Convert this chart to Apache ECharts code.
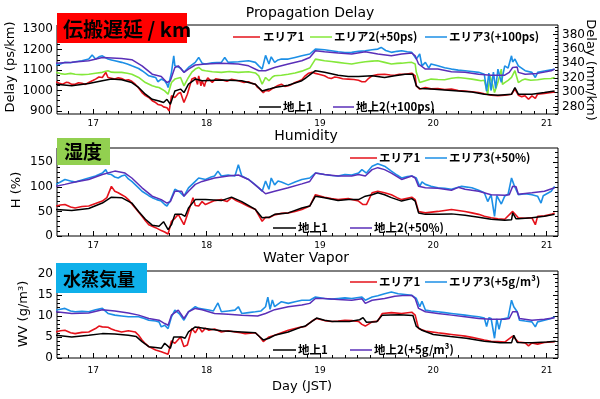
<!DOCTYPE html>
<html>
<head>
<meta charset="utf-8">
<script src="https://cdn.jsdelivr.net/npm/echarts@6/dist/echarts.min.js"></script>
<style>
  html, body { margin: 0; padding: 0; background: #fff; }
  #main { width: 600px; height: 399px; }
</style>
</head>
<body>
<div id="main"></div>
<script>
// tick labels
const dayTicks = [17, 18, 19, 20, 21];
const delayTicks = [900, 1000, 1100, 1200, 1300];
const delayMmTicks = [280, 300, 320, 340, 360, 380];
const humTicks = [0, 50, 100, 150];
const wvTicks = [0, 5, 10, 15, 20];

// Propagation delay (ps/km), [day, value]
const delayArea1 = [[16.67,1043],[16.70,1036],[16.73,1031],[16.76,1040],[16.78,1039],[16.81,1030],[16.84,1031],[16.87,1038],[16.90,1036],[16.93,1030],[16.96,1039],[17.00,1050],[17.02,1056],[17.05,1066],[17.08,1064],[17.11,1089],[17.13,1064],[17.16,1060],[17.19,1056],[17.22,1062],[17.25,1059],[17.28,1050],[17.31,1053],[17.34,1045],[17.37,1031],[17.40,1012],[17.43,990],[17.46,975],[17.49,966],[17.52,950],[17.55,941],[17.57,932],[17.60,928],[17.62,920],[17.65,916],[17.67,900],[17.69,974],[17.72,966],[17.75,985],[17.77,990],[17.80,941],[17.83,982],[17.85,1020],[17.87,1056],[17.90,1064],[17.92,1030],[17.93,1072],[17.95,1023],[17.96,1048],[17.98,1020],[17.99,1040],[18.01,1062],[18.02,1056],[18.05,1040],[18.08,1058],[18.13,1053],[18.18,1045],[18.22,1055],[18.28,1048],[18.33,1040],[18.37,1043],[18.40,1035],[18.43,1031],[18.45,1015],[18.47,1007],[18.50,990],[18.52,1000],[18.55,998],[18.58,1010],[18.60,1015],[18.63,1025],[18.66,1031],[18.69,1020],[18.72,1023],[18.75,1030],[18.78,1039],[18.81,1045],[18.84,1053],[18.87,1072],[18.90,1085],[18.93,1089],[18.96,1084],[18.99,1080],[19.04,1072],[19.07,1063],[19.10,1059],[19.13,1066],[19.16,1064],[19.20,1058],[19.25,1056],[19.30,1054],[19.34,1050],[19.37,1043],[19.40,1043],[19.43,1060],[19.46,1072],[19.51,1078],[19.57,1080],[19.62,1076],[19.66,1075],[19.70,1079],[19.75,1080],[19.81,1085],[19.84,1072],[19.85,1023],[19.88,1007],[19.93,1015],[19.98,1008],[20.04,1010],[20.10,1005],[20.16,1007],[20.22,1000],[20.28,998],[20.34,994],[20.40,990],[20.45,984],[20.51,977],[20.57,975],[20.63,977],[20.69,982],[20.72,1007],[20.75,977],[20.78,970],[20.81,974],[20.84,957],[20.87,974],[20.90,962],[20.92,982],[20.98,986],[21.04,990],[21.07,993]];
const delayArea2 = [[16.67,1089],[16.71,1083],[16.75,1080],[16.80,1084],[16.84,1080],[16.90,1078],[16.96,1080],[17.02,1085],[17.08,1089],[17.11,1094],[17.13,1097],[17.16,1090],[17.19,1089],[17.25,1089],[17.30,1085],[17.34,1080],[17.40,1064],[17.46,1039],[17.52,1023],[17.55,1018],[17.58,1015],[17.63,998],[17.66,982],[17.69,1039],[17.72,1056],[17.77,1064],[17.80,1023],[17.84,1064],[17.87,1090],[17.90,1105],[17.93,1113],[17.96,1100],[17.99,1097],[18.05,1092],[18.13,1089],[18.20,1093],[18.28,1089],[18.37,1092],[18.43,1086],[18.46,1072],[18.49,1031],[18.52,1064],[18.55,1048],[18.58,1066],[18.60,1072],[18.66,1075],[18.72,1080],[18.78,1086],[18.84,1095],[18.91,1110],[18.96,1154],[19.04,1146],[19.10,1142],[19.16,1138],[19.22,1134],[19.28,1130],[19.34,1136],[19.40,1141],[19.46,1144],[19.51,1146],[19.57,1138],[19.63,1130],[19.68,1133],[19.72,1134],[19.78,1137],[19.81,1138],[19.84,1130],[19.85,1089],[19.88,1039],[19.93,1048],[19.98,1056],[20.04,1054],[20.10,1053],[20.16,1060],[20.22,1064],[20.28,1060],[20.34,1056],[20.38,1052],[20.42,1048],[20.45,1050],[20.48,982],[20.50,1072],[20.52,1035],[20.54,990],[20.57,1040],[20.60,1105],[20.61,1030],[20.63,1039],[20.66,1050],[20.69,1064],[20.72,1097],[20.75,1039],[20.78,1050],[20.81,1056],[20.86,1050],[20.92,1053],[20.98,1058],[21.04,1059],[21.07,1064]];
const delayArea3 = [[16.67,1125],[16.71,1130],[16.75,1138],[16.80,1136],[16.84,1141],[16.90,1146],[16.96,1154],[16.99,1174],[17.02,1154],[17.05,1165],[17.08,1170],[17.11,1160],[17.13,1154],[17.16,1150],[17.19,1146],[17.25,1138],[17.30,1130],[17.34,1121],[17.40,1108],[17.43,1097],[17.46,1085],[17.49,1072],[17.52,1068],[17.55,1064],[17.57,1043],[17.60,1056],[17.63,1048],[17.65,1031],[17.66,1015],[17.69,1089],[17.71,1170],[17.72,1121],[17.77,1110],[17.80,1089],[17.84,1113],[17.90,1138],[17.93,1162],[17.96,1134],[17.99,1130],[18.05,1136],[18.13,1138],[18.16,1162],[18.19,1138],[18.28,1141],[18.37,1146],[18.43,1138],[18.46,1121],[18.49,1105],[18.52,1172],[18.55,1130],[18.57,1165],[18.60,1138],[18.63,1150],[18.66,1154],[18.72,1154],[18.78,1162],[18.84,1170],[18.91,1179],[18.96,1203],[19.04,1200],[19.10,1195],[19.16,1190],[19.22,1186],[19.28,1187],[19.34,1192],[19.40,1195],[19.46,1200],[19.51,1203],[19.54,1211],[19.58,1196],[19.63,1187],[19.68,1192],[19.72,1195],[19.77,1190],[19.81,1187],[19.85,1154],[19.88,1179],[19.90,1121],[19.93,1138],[19.96,1110],[19.98,1130],[20.04,1121],[20.10,1112],[20.16,1105],[20.22,1100],[20.28,1097],[20.34,1093],[20.40,1089],[20.45,1080],[20.47,997],[20.49,1085],[20.51,1000],[20.53,1090],[20.55,1010],[20.57,1105],[20.60,1040],[20.63,1121],[20.66,1110],[20.69,1170],[20.70,1140],[20.72,1154],[20.75,1121],[20.81,1097],[20.87,1089],[20.90,1064],[20.92,1089],[20.98,1096],[21.04,1101],[21.07,1105]];
const delayGround1 = [[16.67,1031],[16.81,1023],[16.96,1034],[17.08,1048],[17.16,1056],[17.25,1053],[17.34,1039],[17.40,1015],[17.46,982],[17.52,957],[17.58,949],[17.62,941],[17.65,957],[17.68,933],[17.69,941],[17.72,998],[17.77,1007],[17.80,990],[17.84,1031],[17.90,1056],[17.96,1048],[18.13,1051],[18.31,1048],[18.43,1031],[18.49,998],[18.55,1007],[18.60,1015],[18.72,1026],[18.84,1048],[18.87,1060],[18.93,1085],[18.96,1097],[19.04,1089],[19.16,1075],[19.25,1069],[19.34,1069],[19.46,1072],[19.57,1064],[19.66,1072],[19.75,1080],[19.82,1080],[19.85,1023],[19.88,1010],[19.98,1007],[20.10,1003],[20.22,998],[20.34,993],[20.45,982],[20.57,977],[20.69,982],[20.72,1015],[20.75,982],[20.87,982],[20.98,990],[21.07,998]];
const delayGround2 = [[16.67,1134],[16.81,1138],[16.96,1146],[17.08,1162],[17.25,1157],[17.34,1151],[17.43,1121],[17.52,1080],[17.60,1069],[17.65,1039],[17.68,1048],[17.72,1113],[17.75,1121],[17.80,1089],[17.84,1105],[17.90,1125],[17.99,1130],[18.13,1134],[18.28,1130],[18.37,1121],[18.46,1097],[18.52,1097],[18.60,1113],[18.72,1130],[18.84,1146],[18.91,1162],[18.96,1195],[19.04,1190],[19.16,1184],[19.28,1179],[19.40,1190],[19.51,1179],[19.63,1170],[19.72,1179],[19.81,1184],[19.84,1170],[19.87,1130],[19.93,1105],[20.04,1105],[20.16,1092],[20.28,1089],[20.40,1080],[20.51,1075],[20.63,1075],[20.67,1089],[20.70,1113],[20.74,1115],[20.75,1089],[20.81,1080],[20.92,1084],[21.04,1097],[21.07,1105]];

// Humidity (%)
const humArea1 = [[16.67,61],[16.71,63],[16.75,64],[16.80,59],[16.84,57],[16.90,60],[16.96,61],[17.02,66],[17.08,71],[17.12,78],[17.16,101],[17.19,91],[17.22,88],[17.25,84],[17.28,80],[17.31,74],[17.37,57],[17.43,40],[17.46,31],[17.49,23],[17.52,20],[17.55,17],[17.60,11],[17.63,8],[17.66,4],[17.69,30],[17.72,36],[17.75,44],[17.80,23],[17.84,50],[17.88,78],[17.90,62],[17.93,61],[17.96,70],[17.99,64],[18.02,67],[18.07,72],[18.13,74],[18.18,70],[18.22,78],[18.26,72],[18.31,67],[18.37,60],[18.43,54],[18.46,42],[18.49,30],[18.52,38],[18.55,37],[18.60,43],[18.66,46],[18.72,47],[18.78,50],[18.84,54],[18.91,61],[18.96,84],[19.04,79],[19.10,76],[19.16,74],[19.25,76],[19.34,71],[19.38,64],[19.41,64],[19.46,88],[19.51,91],[19.57,88],[19.63,84],[19.68,78],[19.72,74],[19.81,79],[19.84,74],[19.87,50],[19.93,47],[20.04,50],[20.10,52],[20.16,54],[20.22,52],[20.28,50],[20.34,47],[20.40,44],[20.45,40],[20.51,37],[20.57,35],[20.63,34],[20.70,50],[20.75,37],[20.81,36],[20.87,37],[20.90,23],[20.92,40],[20.98,41],[21.04,44],[21.07,47]];
const humArea3 = [[16.67,105],[16.71,110],[16.75,115],[16.80,112],[16.84,110],[16.90,114],[16.96,118],[17.02,122],[17.08,128],[17.11,135],[17.13,126],[17.16,125],[17.19,120],[17.22,118],[17.25,122],[17.28,124],[17.31,116],[17.34,111],[17.40,98],[17.43,91],[17.49,82],[17.52,78],[17.56,74],[17.60,71],[17.63,64],[17.65,61],[17.68,72],[17.72,95],[17.76,90],[17.80,81],[17.84,98],[17.90,111],[17.93,118],[17.99,115],[18.04,120],[18.07,122],[18.10,132],[18.13,122],[18.19,124],[18.25,122],[18.28,145],[18.31,122],[18.37,115],[18.42,106],[18.46,98],[18.49,91],[18.52,112],[18.55,95],[18.57,118],[18.60,104],[18.63,112],[18.66,110],[18.72,104],[18.78,110],[18.84,115],[18.91,118],[18.96,128],[19.04,125],[19.10,123],[19.16,122],[19.22,125],[19.28,124],[19.34,128],[19.37,135],[19.41,128],[19.46,142],[19.51,147],[19.57,142],[19.63,132],[19.68,124],[19.72,118],[19.77,121],[19.81,122],[19.85,118],[19.88,101],[19.90,110],[19.93,105],[19.98,101],[20.04,98],[20.10,97],[20.16,95],[20.22,99],[20.25,101],[20.34,98],[20.40,93],[20.45,88],[20.48,70],[20.51,84],[20.54,40],[20.56,82],[20.60,65],[20.63,81],[20.66,85],[20.69,118],[20.71,105],[20.75,84],[20.81,86],[20.87,84],[20.92,81],[20.95,67],[20.97,82],[21.04,91],[21.07,101]];
const humGround1 = [[16.67,54],[16.81,52],[16.96,56],[17.08,67],[17.16,79],[17.25,78],[17.34,67],[17.40,50],[17.46,34],[17.52,22],[17.58,20],[17.62,29],[17.66,13],[17.69,23],[17.72,44],[17.78,44],[17.81,40],[17.84,57],[17.90,74],[17.99,74],[18.13,72],[18.22,79],[18.31,70],[18.43,54],[18.49,37],[18.55,38],[18.60,44],[18.72,47],[18.84,57],[18.91,61],[18.96,81],[19.04,78],[19.16,72],[19.25,74],[19.34,74],[19.40,81],[19.46,84],[19.51,88],[19.57,84],[19.63,78],[19.72,71],[19.81,76],[19.84,71],[19.87,47],[19.93,44],[20.04,44],[20.16,45],[20.28,42],[20.40,38],[20.51,34],[20.63,32],[20.69,33],[20.70,47],[20.73,35],[20.75,35],[20.87,37],[20.98,40],[21.07,44]];
const humGround2 = [[16.67,101],[16.75,105],[16.84,110],[16.96,115],[17.08,125],[17.19,132],[17.28,128],[17.34,118],[17.43,98],[17.52,81],[17.60,74],[17.65,67],[17.68,70],[17.72,91],[17.78,91],[17.80,81],[17.84,91],[17.90,105],[17.96,111],[18.07,118],[18.19,122],[18.28,124],[18.37,115],[18.46,98],[18.52,86],[18.60,91],[18.72,98],[18.84,106],[18.91,111],[18.96,128],[19.04,125],[19.16,122],[19.28,122],[19.34,125],[19.40,122],[19.46,135],[19.51,139],[19.57,135],[19.63,128],[19.72,115],[19.81,122],[19.84,118],[19.87,101],[19.93,98],[20.04,97],[20.16,93],[20.22,99],[20.28,95],[20.40,91],[20.51,84],[20.63,83],[20.67,84],[20.70,101],[20.73,100],[20.75,85],[20.87,88],[20.98,91],[21.07,98]];

// Water vapor (g/m3)
const wvArea1 = [[16.67,6.2],[16.71,6.5],[16.75,6.6],[16.80,6.0],[16.84,5.8],[16.90,6.1],[16.96,6.2],[17.02,7.0],[17.05,7.6],[17.08,7.4],[17.13,7.3],[17.16,6.9],[17.19,6.6],[17.25,6.2],[17.31,6.5],[17.37,6.2],[17.40,5.4],[17.43,4.3],[17.46,3.4],[17.49,2.7],[17.55,1.9],[17.60,1.5],[17.63,1.2],[17.66,0.9],[17.69,4.1],[17.72,3.5],[17.77,5.0],[17.80,2.7],[17.83,3.1],[17.87,7.0],[17.90,6.0],[17.93,7.4],[17.96,6.2],[17.99,7.1],[18.02,6.6],[18.07,6.9],[18.13,6.2],[18.19,6.5],[18.25,6.2],[18.30,6.0],[18.34,5.8],[18.43,6.0],[18.47,5.0],[18.50,3.9],[18.55,5.0],[18.60,5.4],[18.66,6.0],[18.72,6.6],[18.78,7.0],[18.84,7.4],[18.87,7.5],[18.93,8.8],[18.97,9.4],[19.04,8.9],[19.10,8.7],[19.16,8.8],[19.22,9.0],[19.28,8.9],[19.34,8.7],[19.37,8.0],[19.40,7.6],[19.46,8.6],[19.51,8.8],[19.55,10.6],[19.63,10.8],[19.72,10.6],[19.81,10.9],[19.84,10.2],[19.87,7.0],[19.93,6.4],[20.04,6.0],[20.10,5.8],[20.16,5.6],[20.22,5.4],[20.28,5.2],[20.34,4.9],[20.40,4.6],[20.45,4.3],[20.51,4.0],[20.57,3.9],[20.63,3.8],[20.70,5.2],[20.75,3.8],[20.81,3.6],[20.84,2.9],[20.87,3.6],[20.92,3.3],[20.98,3.7],[21.04,3.8],[21.07,3.9]];
const wvArea3 = [[16.67,11.4],[16.71,11.6],[16.75,11.8],[16.80,11.2],[16.84,11.0],[16.90,11.1],[16.96,11.0],[17.02,11.5],[17.08,11.8],[17.13,10.6],[17.19,10.2],[17.25,10.0],[17.31,9.8],[17.40,9.8],[17.45,9.4],[17.49,9.0],[17.55,8.8],[17.58,8.6],[17.60,7.4],[17.63,7.8],[17.66,7.0],[17.69,9.8],[17.72,11.4],[17.76,10.5],[17.80,9.0],[17.84,11.0],[17.90,12.2],[17.93,11.8],[17.98,11.6],[18.02,11.4],[18.06,11.2],[18.10,13.1],[18.13,11.0],[18.19,11.2],[18.25,11.4],[18.28,12.2],[18.31,10.6],[18.37,10.8],[18.43,11.0],[18.48,11.2],[18.52,12.2],[18.54,14.5],[18.56,11.6],[18.58,13.8],[18.60,12.2],[18.63,12.8],[18.66,13.4],[18.72,13.0],[18.78,13.4],[18.84,13.75],[18.91,13.75],[18.96,14.5],[19.04,14.15],[19.10,14.0],[19.16,14.15],[19.22,14.3],[19.28,14.15],[19.37,14.5],[19.40,13.75],[19.46,14.5],[19.51,14.8],[19.57,15.3],[19.63,15.7],[19.69,15.3],[19.75,15.1],[19.81,14.9],[19.85,14.15],[19.88,12.2],[19.90,13.5],[19.93,11.4],[19.98,11.2],[20.04,11.0],[20.10,10.8],[20.16,10.6],[20.22,10.4],[20.28,10.2],[20.34,10.0],[20.40,9.8],[20.45,9.5],[20.47,7.5],[20.49,9.6],[20.51,9.4],[20.54,4.7],[20.56,9.3],[20.58,6.8],[20.60,9.2],[20.63,9.4],[20.66,9.6],[20.69,13.75],[20.71,12.2],[20.74,11.0],[20.76,9.0],[20.81,8.8],[20.87,8.6],[20.90,7.4],[20.92,8.6],[20.98,9.0],[21.04,9.4],[21.07,9.8]];
const wvGround1 = [[16.67,5.4],[16.81,5.0],[16.96,5.4],[17.08,5.8],[17.19,5.7],[17.31,5.4],[17.38,5.1],[17.43,3.9],[17.49,2.7],[17.55,2.5],[17.60,2.3],[17.63,3.5],[17.68,2.3],[17.71,5.0],[17.78,5.0],[17.81,4.7],[17.84,6.2],[17.90,7.4],[17.99,7.0],[18.13,6.5],[18.31,6.2],[18.43,6.0],[18.47,5.0],[18.50,4.3],[18.55,4.7],[18.60,5.4],[18.72,6.2],[18.84,7.4],[18.87,7.6],[18.97,9.5],[19.04,9.0],[19.11,8.7],[19.26,8.7],[19.35,9.1],[19.38,9.6],[19.41,8.5],[19.50,8.6],[19.55,10.2],[19.70,10.3],[19.82,10.1],[19.85,7.5],[19.90,6.6],[20.00,5.6],[20.15,5.1],[20.29,4.7],[20.45,4.0],[20.59,3.6],[20.69,3.6],[20.71,5.4],[20.74,3.7],[20.87,3.6],[21.00,3.8],[21.08,4.0]];
const wvGround2 = [[16.67,11.0],[16.81,10.6],[16.96,10.7],[17.08,11.5],[17.19,11.2],[17.31,10.7],[17.40,10.2],[17.49,9.4],[17.58,9.0],[17.63,8.2],[17.66,7.8],[17.69,10.2],[17.75,11.4],[17.80,9.4],[17.84,11.0],[17.90,11.8],[17.96,11.5],[18.07,10.6],[18.19,10.4],[18.31,10.2],[18.45,10.0],[18.52,10.6],[18.60,11.5],[18.72,12.2],[18.84,12.6],[18.91,13.0],[18.96,14.15],[19.04,14.15],[19.16,13.9],[19.28,13.75],[19.37,14.1],[19.40,13.0],[19.46,13.75],[19.57,14.15],[19.66,14.7],[19.75,14.9],[19.81,14.9],[19.84,14.15],[19.87,11.8],[19.93,11.0],[20.04,10.6],[20.16,10.2],[20.28,9.8],[20.40,9.4],[20.51,9.2],[20.63,9.2],[20.67,9.4],[20.70,11.0],[20.74,11.0],[20.76,9.4],[20.87,9.0],[20.98,9.2],[21.07,9.6]];

const RED = '#e5121b', GREEN = '#84e83a', BLUE = '#1c8fe6', PURPLE = '#5a2fb8', BLACK = '#000';
const FONT = "'DejaVu Sans', sans-serif";
const JP = "'Noto Sans CJK JP', sans-serif";

// minor tick positions between (and just outside) the labelled ticks
function minorOf(major, parts, lo, hi) {
  const out = [];
  const step = (major[1] - major[0]) / parts;
  for (let v = major[0] - step * parts; v <= major[major.length - 1] + step * parts + 1e-9; v += step) {
    const r = Math.round(v * 1000) / 1000;
    if (r >= lo && r <= hi) out.push(r);
  }
  return out;
}

const X_MIN = 16.68, X_MAX = 21.1;
const grids = [
  { left: 57, top: 25, width: 501, height: 89, show: true, borderColor: '#000', borderWidth: 1 },
  { left: 57, top: 148, width: 501, height: 88, show: true, borderColor: '#000', borderWidth: 1 },
  { left: 57, top: 271, width: 501, height: 87, show: true, borderColor: '#000', borderWidth: 1 }
];
const labelMargins = [5, 5, 8];
const plain = v => String(v);

const xAxes = [];
grids.forEach((g, i) => {
  xAxes.push({
    gridIndex: i, type: 'value', position: 'bottom', min: X_MIN, max: X_MAX,
    axisLine: { show: false }, splitLine: { show: false },
    axisTick: { inside: true, length: 5, customValues: dayTicks, lineStyle: { color: '#000' } },
    axisLabel: { customValues: dayTicks, formatter: plain, fontSize: 9, color: '#000', fontFamily: FONT, margin: labelMargins[i] }
  });
  xAxes.push({
    gridIndex: i, type: 'value', position: 'bottom', min: X_MIN, max: X_MAX,
    axisLine: { show: false }, splitLine: { show: false }, axisLabel: { show: false },
    axisTick: { inside: true, length: 3, customValues: minorOf(dayTicks, 9, X_MIN, X_MAX), lineStyle: { color: '#000' } }
  });
});

function yPair(grid, pos, min, max, ticks, parts, labels) {
  return [{
    gridIndex: grid, type: 'value', position: pos, min: min, max: max,
    axisLine: { show: false }, splitLine: { show: false },
    axisTick: { inside: true, length: 5, customValues: ticks, lineStyle: { color: '#000' } },
    axisLabel: { show: labels, customValues: ticks, formatter: plain, fontSize: 12, color: '#000', fontFamily: FONT, margin: 4 }
  }, {
    gridIndex: grid, type: 'value', position: pos, min: min, max: max,
    axisLine: { show: false }, splitLine: { show: false }, axisLabel: { show: false },
    axisTick: { inside: true, length: 3, customValues: minorOf(ticks, parts, min, max), lineStyle: { color: '#000' } }
  }];
}

const yAxes = [].concat(
  yPair(0, 'left', 885, 1321, delayTicks, 4, true),
  yPair(0, 'right', 270, 393, delayMmTicks, 4, true),
  yPair(1, 'left', 0, 179, humTicks, 5, true),
  yPair(1, 'right', 0, 179, humTicks, 5, false),
  yPair(2, 'left', 0, 20.7, wvTicks, 5, true),
  yPair(2, 'right', 0, 20.7, wvTicks, 5, false)
);

function line(data, color, xi, yi, w) {
  return {
    type: 'line', data: data, xAxisIndex: xi, yAxisIndex: yi, showSymbol: false,
    lineStyle: { color: color, width: w || 1.6 }, itemStyle: { color: color },
    silent: true, animation: false
  };
}

const series = [
  line(delayArea1, RED, 0, 0), line(delayArea2, GREEN, 0, 0), line(delayArea3, BLUE, 0, 0),
  line(delayGround1, BLACK, 0, 0, 1.5), line(delayGround2, PURPLE, 0, 0, 1.5),
  line(humArea1, RED, 2, 4), line(humArea3, BLUE, 2, 4),
  line(humGround1, BLACK, 2, 4, 1.5), line(humGround2, PURPLE, 2, 4, 1.5),
  line(wvArea1, RED, 4, 8), line(wvArea3, BLUE, 4, 8),
  line(wvGround1, BLACK, 4, 8, 1.5), line(wvGround2, PURPLE, 4, 8, 1.5)
];

function txt(x, y, s, font) {
  return {
    type: 'text', x: x, y: y, z: 100,
    style: { text: s, font: font, fill: '#000', textAlign: 'left', textVerticalAlign: 'middle', align: 'left', verticalAlign: 'middle' }
  };
}
function ctxt(x, y, s, font, rot) {
  const t = txt(x, y, s, font);
  t.style.textAlign = t.style.align = 'center';
  if (rot) t.rotation = rot;
  return t;
}
function seg(x1, x2, y, color) {
  return { type: 'line', z: 100, shape: { x1: x1, y1: y, x2: x2, y2: y }, style: { stroke: color, lineWidth: 1.5 } };
}
function box(x, y, w, h, fill) {
  return { type: 'rect', z: 99, shape: { x: x, y: y, width: w, height: h }, style: { fill: fill } };
}

const LF = 'bold 11.5px ' + JP;
const graphics = [
  // titles
  ctxt(310, 13, 'Propagation Delay', '14px ' + FONT),
  ctxt(306, 136, 'Humidity', '14px ' + FONT),
  ctxt(306, 258, 'Water Vapor', '14px ' + FONT),
  ctxt(302, 387, 'Day (JST)', '13px ' + FONT),
  // axis names
  ctxt(11, 67, 'Delay (ps/km)', '13px ' + FONT, Math.PI / 2),
  ctxt(590, 70, 'Delay (mm/km)', '13px ' + FONT, -Math.PI / 2),
  ctxt(17, 190, 'H (%)', '13px ' + FONT, Math.PI / 2),
  ctxt(24, 314, 'WV (g/m³)', '13px ' + FONT, Math.PI / 2),
  // tag boxes
  box(57, 13, 130, 30, '#ff0000'),
  txt(63, 29, '伝搬遅延 / km', 'bold 20px ' + JP),
  box(57, 138, 53, 27, '#92d050'),
  txt(64, 152, '湿度', 'bold 19px ' + JP),
  box(56, 263, 91, 30, '#0fb0ea'),
  txt(63, 279, '水蒸気量', 'bold 18px ' + JP),
  // legend: delay
  seg(233, 260, 37, RED), txt(263, 37, 'エリア1', LF),
  seg(310, 332, 37, GREEN), txt(334, 37, 'エリア2(+50ps)', LF),
  seg(425, 447, 37, BLUE), txt(449, 37, 'エリア3(+100ps)', LF),
  seg(259, 281, 107, BLACK), txt(283, 107, '地上1', LF),
  seg(333, 354, 107, PURPLE), txt(356, 107, '地上2(+100ps)', LF),
  // legend: humidity
  seg(350, 377, 158, RED), txt(379, 158, 'エリア1', LF),
  seg(425, 447, 158, BLUE), txt(449, 158, 'エリア3(+50%)', LF),
  seg(273, 296, 228, BLACK), txt(298, 228, '地上1', LF),
  seg(350, 372, 228, PURPLE), txt(374, 228, '地上2(+50%)', LF),
  // legend: water vapor
  seg(350, 377, 282, RED), txt(379, 282, 'エリア1', LF),
  seg(425, 447, 282, BLUE), txt(449, 282, 'エリア3(+5g/m³)', LF),
  seg(273, 296, 350, BLACK), txt(298, 350, '地上1', LF),
  seg(350, 372, 350, PURPLE), txt(374, 350, '地上2(+5g/m³)', LF)
];

const chart = echarts.init(document.getElementById('main'));
chart.setOption({
  backgroundColor: '#fff',
  animation: false,
  grid: grids,
  xAxis: xAxes,
  yAxis: yAxes,
  series: series,
  graphic: graphics
});
</script>
</body>
</html>
